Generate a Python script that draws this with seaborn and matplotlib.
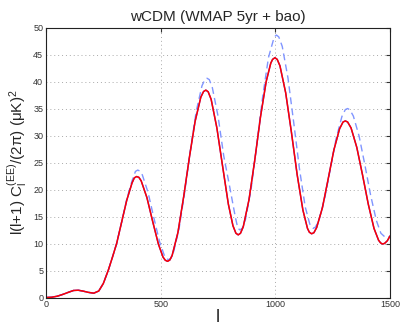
import numpy as np
import pandas as pd
import seaborn as sns
import matplotlib
matplotlib.use('Agg')
import matplotlib.pyplot as plt

# values (multipole l, power in uK^2)
l_fit = [0, 25, 50, 75, 100, 120, 140, 160, 185, 208, 230, 250, 272, 290, 308, 330, 352, 375, 385, 395,
         405, 415, 440, 465, 490, 510, 520, 530, 540, 550, 575, 600, 625, 650, 675, 687, 697,
         707, 720, 745, 770, 795, 815, 828, 838, 848, 860, 885, 910, 935, 960, 980, 988, 998,
         1008, 1020, 1045, 1070, 1095, 1120, 1140, 1148, 1158, 1168, 1180, 1205, 1230, 1255, 1280, 1295, 1305,
         1315, 1330, 1355, 1380, 1405, 1430, 1450, 1459, 1468, 1477, 1488, 1500]
cl_fit = [0, 0.05, 0.25, 0.6, 1.0, 1.3, 1.35, 1.2, 0.95, 0.8, 1.2, 2.6, 5.1, 7.5, 10.0, 14.0, 18.0, 21.2, 22.15, 22.4,
          22.25, 21.6, 18.5, 14.1, 9.9, 7.5, 6.9, 6.7, 6.95, 7.8, 12.0, 18.6, 25.9, 32.6, 37.1, 38.15, 38.4,
          38.1, 36.7, 31.4, 24.3, 17.3, 13.3, 11.9, 11.6, 11.9, 13.1, 18.1, 25.4, 33.4, 40.0, 43.4, 44.1, 44.4,
          44.1, 42.9, 37.9, 30.6, 22.75, 16.2, 12.8, 12.1, 11.8, 12.0, 12.95, 16.6, 21.9, 27.3, 31.25, 32.5, 32.7,
          32.5, 31.4, 27.8, 22.7, 17.3, 12.8, 10.6, 10.1, 9.9, 10.05, 10.5, 11.4]

l_alt = [0, 25, 50, 75, 100, 120, 140, 160, 185, 208, 230, 250, 272, 290, 308, 330, 352, 375, 390, 400,
         410, 420, 445, 470, 495, 515, 525, 535, 545, 555, 580, 605, 630, 655, 680, 692, 702,
         712, 725, 750, 775, 800, 825, 836, 846, 856, 870, 895, 920, 945, 970, 995, 1005,
         1015, 1030, 1055, 1080, 1105, 1130, 1150, 1165, 1175, 1190, 1215, 1240, 1265, 1290, 1305, 1315,
         1325, 1340, 1365, 1390, 1415, 1440, 1460, 1478, 1490, 1500]
cl_alt = [0, 0.05, 0.25, 0.6, 1.0, 1.3, 1.35, 1.2, 0.95, 0.8, 1.2, 2.6, 5.1, 7.5, 10.0, 14.0, 18.2, 21.6, 23.35, 23.6,
          23.4, 22.7, 19.45, 14.8, 10.35, 7.9, 7.2, 7.0, 7.3, 8.2, 12.7, 19.6, 27.4, 34.5, 39.2, 40.3, 40.6,
          40.35, 38.9, 33.6, 26.2, 20.7, 15.0, 12.85, 12.5, 12.85, 14.5, 20.3, 28.6, 37.3, 44.45, 48.25, 48.6,
          48.25, 46.5, 40.65, 32.4, 23.85, 16.8, 13.6, 12.8, 13.05, 14.3, 18.35, 23.9, 29.45, 33.5, 34.8, 35.0,
          34.75, 33.6, 29.9, 24.6, 19.0, 14.3, 11.9, 11.2, 11.2, 11.3]

x_ticks = [0, 500, 1000, 1500]
y_ticks = [0, 5, 10, 15, 20, 25, 30, 35, 40, 45, 50]

fit = pd.DataFrame({'l': l_fit, 'cl': cl_fit})
alt = pd.DataFrame({'l': l_alt, 'cl': cl_alt})

sns.set_style('white')
plt.rcParams['font.family'] = ['Liberation Sans', 'DejaVu Sans']
plt.rcParams['mathtext.default'] = 'regular'
plt.rcParams['lines.solid_joinstyle'] = 'round'
plt.rcParams['lines.dash_joinstyle'] = 'round'

fig = plt.figure(figsize=(4.01, 3.27), dpi=100)
ax = fig.add_axes([0.1147, 0.0902, 0.858, 0.8257])

sns.lineplot(data=alt, x='l', y='cl', ax=ax, color='#8095ff', lw=1.0, sort=False)
sns.lineplot(data=fit, x='l', y='cl', ax=ax, color='#4040ff', lw=1.0, sort=False)
sns.lineplot(data=fit, x='l', y='cl', ax=ax, color='#ff0000', lw=1.1, sort=False)
ax.lines[0].set_linestyle((0, (5, 3)))

ax.set_xlim(0, 1500)
ax.set_ylim(0, 50)
ax.set_xticks(x_ticks)
ax.set_yticks(y_ticks)
ax.tick_params(direction='in', length=3, labelsize=6.5, colors='#333333', top=True, right=True,
               labelcolor='#333333', pad=2)
ax.grid(True, linestyle=(0, (1, 3)), color='#aaaaaa', lw=0.7)
for s in ax.spines.values():
    s.set_color('#222222')
    s.set_linewidth(0.8)

ax.set_title('wCDM (WMAP 5yr + bao)', fontsize=11, pad=5)
ax.set_xlabel('l', fontsize=13, labelpad=0)
ax.set_ylabel('l(l+1) C$_{l}^{(EE)}$/(2π) (μK)$^{2}$', fontsize=11, labelpad=2)

fig.savefig('out.png', dpi=100)
